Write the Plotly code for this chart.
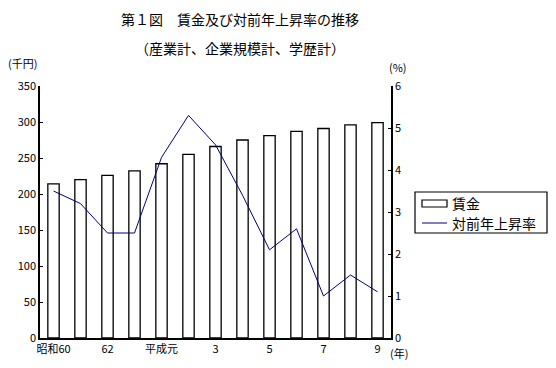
import plotly.graph_objects as go

years = ["昭和60", "61", "62", "63", "平成元", "2", "3", "4", "5", "6", "7", "8", "9"]
wage = [214, 220, 226, 232, 242, 255, 266, 275, 281, 287, 291, 296, 299]
rate = [3.5, 3.2, 2.5, 2.5, 4.3, 5.3, 4.6, 3.4, 2.1, 2.6, 1.0, 1.5, 1.1]
tick_idx = [0, 2, 4, 6, 8, 10, 12]
tick_labels = ["昭和60", "62", "平成元", "3", "5", "7", "9"]

FONT = "Noto Sans CJK JP"
xs = list(range(len(years)))

L, R, T, B = 40, 165, 86, 30
W, H = 556, 368
W_plot = W - L - R
H_plot = H - T - B


def px(x):
    return (x - L) / W_plot


def py(y):
    return (H - B - y) / H_plot


fig = go.Figure()
fig.add_trace(go.Bar(
    x=xs, y=wage, name="賃金", width=0.42,
    marker=dict(color="white", line=dict(color="black", width=1.3)),
    yaxis="y", hoverinfo="skip"))
fig.add_trace(go.Scatter(
    x=xs, y=rate, name="対前年上昇率", mode="lines",
    line=dict(color="#000080", width=1), yaxis="y2", hoverinfo="skip"))

fig.update_layout(
    width=W, height=H,
    margin=dict(l=L, r=R, t=T, b=B),
    paper_bgcolor="white", plot_bgcolor="white",
    font=dict(family=FONT, size=11, color="black"),
    showlegend=False,
    xaxis=dict(range=[-0.5, 12.5], tickvals=tick_idx, ticktext=tick_labels,
               showgrid=False, zeroline=False, showline=True,
               linecolor="black", linewidth=1.5, ticks="",
               tickfont=dict(size=11)),
    yaxis=dict(range=[0, 350], dtick=50, showgrid=False, zeroline=False,
               showline=True, linecolor="black", linewidth=1.5,
               ticks="inside", ticklen=3, tickcolor="black",
               tickfont=dict(size=11)),
    yaxis2=dict(range=[0, 6], dtick=1, overlaying="y", side="right",
                showgrid=False, zeroline=False, showline=True,
                linecolor="black", linewidth=1.5,
                ticks="inside", ticklen=3, tickcolor="black",
                tickfont=dict(size=11)),
)

ann = dict(xref="paper", yref="paper", showarrow=False)
fig.add_annotation(text="第１図　賃金及び対前年上昇率の推移", x=px(240), y=py(19),
                   xanchor="center", yanchor="middle", font=dict(size=14), **ann)
fig.add_annotation(text="（産業計、企業規模計、学歴計）", x=px(240), y=py(48),
                   xanchor="center", yanchor="middle", font=dict(size=14), **ann)
fig.add_annotation(text="(千円)", x=px(6), y=py(63),
                   xanchor="left", yanchor="middle", font=dict(size=11), **ann)
fig.add_annotation(text="(%)", x=px(387), y=py(67),
                   xanchor="left", yanchor="middle", font=dict(size=11), **ann)
fig.add_annotation(text="(年)", x=px(388), y=py(353),
                   xanchor="left", yanchor="middle", font=dict(size=11), **ann)

# legend drawn manually
fig.add_shape(type="rect", xref="paper", yref="paper",
              x0=px(415), x1=px(547), y0=py(192), y1=py(233),
              line=dict(color="black", width=1.2), fillcolor="white")
fig.add_shape(type="rect", xref="paper", yref="paper",
              x0=px(422), x1=px(447), y0=py(200), y1=py(207),
              line=dict(color="black", width=1.2), fillcolor="white")
fig.add_shape(type="line", xref="paper", yref="paper",
              x0=px(422), x1=px(447), y0=py(223), y1=py(223),
              line=dict(color="#000080", width=1))
fig.add_annotation(text="賃金", x=px(451), y=py(203),
                   xanchor="left", yanchor="middle", font=dict(size=14),
                   borderpad=0, **ann)
fig.add_annotation(text="対前年上昇率", x=px(451), y=py(223),
                   xanchor="left", yanchor="middle", font=dict(size=14),
                   borderpad=0, **ann)

fig.write_html("out.html", config={"displayModeBar": False},
               post_script="document.body.style.margin='0';")
